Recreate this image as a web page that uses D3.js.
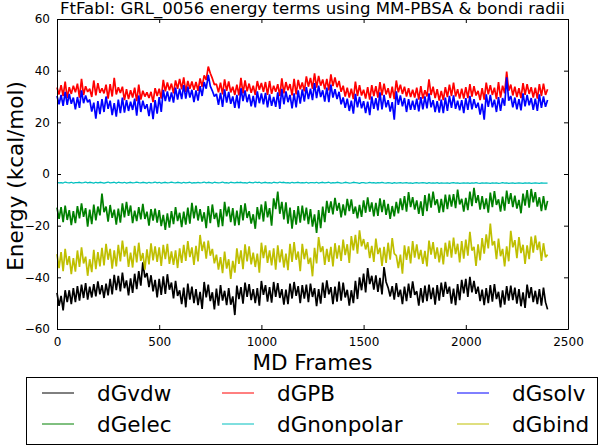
<!DOCTYPE html>
<html><head><meta charset="utf-8">
<script src="https://cdn.jsdelivr.net/npm/d3@7"></script>
<style>
html,body{margin:0;padding:0;background:#fff;}
svg{display:block;font-family:"DejaVu Sans",sans-serif;}
</style></head>
<body>
<svg id="chart" width="600" height="447"></svg>
<script>
const chartTitle = "FtFabI: GRL_0056 energy terms using MM-PBSA & bondi radii";
const xLabel = "MD Frames";
const yLabel = "Energy (kcal/mol)";
const xTicks = [0, 500, 1000, 1500, 2000, 2500];
const yTicks = [-60, -40, -20, 0, 20, 40, 60];
const frameStep = 10;
const seriesNames = ["dGvdw", "dGelec", "dGPB", "dGnonpolar", "dGsolv", "dGbind"];
const seriesColors = ["#000000", "#008000", "#ff0000", "#00bfbf", "#0000ff", "#bfbf00"];

const dGvdw = [-46.0,-51.0,-47.2,-52.8,-45.0,-49.6,
-45.0,-50.4,-44.2,-49.6,-43.4,-49.0,-42.8,-48.0,-42.2,-48.6,-43.6,-47.8,-42.6,-47.4,-41.6,-46.6,-43.0,-48.0,-42.4,-47.0,
-40.6,-46.6,-39.0,-45.0,-39.4,-45.4,-38.2,-44.2,-41.2,-47.0,-40.4,-46.0,-38.6,-44.6,-37.6,-43.2,-34.2,-40.0,-38.4,-43.8,
-39.2,-45.4,-41.0,-47.8,-40.6,-46.8,-39.6,-46.4,-38.8,-44.8,-42.0,-48.2,-41.4,-47.2,
-45.0,-50.4,-44.0,-51.6,-42.4,-48.6,-43.6,-50.0,-44.6,-50.8,-45.6,-52.2,-41.8,-47.8,-42.8,-49.2,-45.8,-52.4,-44.4,-51.0,-43.0,-49.0,-45.2,-50.8,-44.2,-50.6,-47.4,-54.6,
-43.2,-48.4,-43.8,-50.2,-42.0,-47.6,-42.6,-48.8,-44.6,-50.0,-44.2,-51.0,-41.4,-46.8,-43.0,-49.4,-43.8,-49.8,-41.8,-47.6,-42.2,-48.0,-44.6,-50.6,-44.8,-50.4,-42.4,-48.2,-41.8,-47.2,-43.4,-50.0,
-43.0,-48.2,-42.8,-49.6,-42.4,-47.6,-44.2,-51.2,-44.6,-50.2,-42.0,-48.0,-41.2,-46.6,-43.8,-50.4,-43.6,-49.4,-41.6,-49.0,-42.0,-47.8,-44.8,-51.0,-45.0,-50.0,-41.4,-48.4,
-40.0,-45.0,-38.6,-45.8,-36.4,-42.6,-39.4,-44.8,-39.2,-45.6,-40.2,-46.6,-36.0,-41.8,-44.0,-47.4,
-43.4,-48.6,-42.2,-47.6,-44.8,-50.4,-43.6,-49.2,-42.4,-48.0,-41.6,-46.8,-45.4,-51.0,-44.2,-49.8,-43.2,-49.2,-42.8,-48.4,-44.0,-50.6,-43.0,-49.0,-42.0,-47.6,-41.8,-46.4,-43.6,-50.2,-44.4,-50.8,-42.6,-48.8,
-41.0,-46.2,-40.6,-47.6,-39.8,-45.8,-41.4,-46.4,
-43.6,-49.2,-44.8,-50.8,-44.2,-50.0,-43.0,-49.4,-42.6,-48.4,-45.6,-51.6,-45.0,-50.6,-43.4,-49.0,-43.2,-48.8,-44.0,-50.2,-44.6,-51.2,-45.8,-51.8,-42.8,-48.0,-43.8,-49.6,-45.2,-50.4,-44.6,-51.0,-44.0,-49.6,-52.4];

const dGelec = [-13.0,-17.4,-12.8,-18.6,-12.2,-17.8,-14.0,-19.8,-14.4,-19.0,-12.4,-17.2,-11.4,-16.6,-13.2,-20.4,-13.8,-19.4,-11.8,-18.0,-12.6,-16.0,
-7.6,-14.8,
-12.6,-18.4,-12.0,-17.0,-13.8,-19.6,-13.4,-18.8,-11.4,-16.8,-10.8,-16.2,-12.2,-19.0,-14.2,-18.2,-12.8,-17.6,-11.6,-17.4,-14.6,-20.0,-13.6,-18.0,
-13.4,-18.8,-14.0,-20.2,-15.8,-21.6,-15.2,-20.8,-14.4,-19.4,-12.8,-18.2,-15.0,-20.6,
-14.6,-19.6,-13.0,-19.2,-11.2,-17.2,-12.2,-18.0,-13.6,-18.4,-14.8,-21.0,-12.4,-19.0,-11.8,-17.4,-15.0,-20.6,-13.6,-20.2,-10.8,-16.4,-12.6,-18.6,-13.2,-20.0,-14.2,-19.8,-12.0,-18.0,-11.4,-17.0,-14.4,-19.2,-15.6,-21.2,
-12.8,-17.6,-11.8,-18.4,-10.6,-16.8,-13.2,-20.0,-9.4,-13.6,-6.8,-15.4,-10.8,-17.6,-11.0,-19.2,-13.0,-21.2,-14.0,-19.6,-12.4,-18.8,
-12.2,-18.0,-13.0,-19.4,-13.6,-20.4,-15.6,-22.8,-14.0,-21.0,-12.6,-18.6,
-10.4,-15.0,-10.6,-15.6,-9.2,-14.2,-11.2,-16.8,-11.8,-16.0,-9.6,-14.4,-9.8,-15.4,-12.6,-17.2,-12.0,-16.6,-10.2,-15.0,-9.0,-14.6,-11.0,-16.4,-11.2,-16.2,-9.4,-14.8,-10.0,-15.8,-11.6,-17.4,-12.4,-16.4,-10.8,-15.2,
-9.4,-14.0,-8.6,-14.6,-7.0,-12.8,-9.0,-13.8,-10.2,-15.4,-10.6,-16.2,-8.2,-14.4,-7.6,-13.0,-6.8,-12.0,-9.8,-15.0,-9.6,-14.8,-8.0,-13.6,
-8.0,-12.6,-7.8,-13.2,-6.0,-11.8,-9.6,-14.6,-9.2,-14.0,-6.8,-12.4,-5.4,-11.2,-8.2,-13.8,-8.6,-13.6,-9.4,-15.0,-7.2,-12.8,-6.6,-12.0,-9.8,-14.6,-8.8,-14.2,-6.4,-11.6,-7.4,-12.8,-8.4,-13.4,-10.0,-15.2,-7.6,-12.2,-6.2,-13.0,-5.8,-11.0,-7.0,-12.6,-9.0,-14.4,-8.6,-14.0,-10.4];

const dGPB = [33.5,30.8,34.4,30.2,35.8,29.4,33.6,31.0,34.2,31.6,35.0,29.6,36.8,30.6,34.0,31.8,33.0,29.8,36.2,30.4,35.2,31.4,33.2,31.2,34.6,29.2,34.8,30.0,37.2,30.8,33.6,31.4,
33.8,28.6,32.8,29.0,32.4,29.6,33.4,28.2,34.6,28.8,32.2,30.0,31.6,29.4,31.8,27.8,33.2,30.2,33.0,29.2,
36.4,32.0,35.4,32.4,35.0,31.2,36.2,33.0,36.8,32.8,37.4,31.8,36.0,33.0,35.8,32.6,35.6,32.2,37.0,33.8,
38.2,36.4,41.6,39.0,37.0,34.6,
34.8,31.6,35.4,30.8,36.6,32.2,35.8,31.6,33.8,30.6,34.6,30.4,37.2,31.2,36.2,32.0,35.0,31.4,34.2,30.6,36.0,32.6,35.2,31.8,
35.6,30.6,36.0,31.0,34.2,31.8,34.8,30.2,37.0,31.2,35.6,32.4,34.8,30.4,36.8,30.8,36.4,32.8,35.4,32.0,
37.8,33.8,37.2,33.0,39.0,33.4,38.0,34.2,36.6,32.8,36.8,32.4,38.6,34.0,37.4,33.6,36.0,31.8,
34.2,30.0,33.4,29.6,33.0,29.0,35.8,30.2,34.4,30.4,32.6,29.2,33.6,28.8,
34.4,30.2,34.0,29.6,35.6,30.4,35.0,30.8,33.2,29.4,33.8,29.0,36.2,31.6,34.6,31.0,33.8,30.0,33.2,29.8,
32.6,29.6,33.4,28.8,34.0,29.2,32.4,30.0,36.6,30.6,33.8,29.4,32.8,28.4,32.2,28.6,33.6,29.8,34.6,30.2,35.4,30.0,32.8,29.2,
33.0,29.2,33.6,29.4,34.8,30.0,34.0,30.4,32.2,28.6,33.2,28.8,35.4,30.8,34.4,30.6,33.4,29.0,35.6,29.6,34.2,31.2,
39.6,32.2,
34.6,30.4,33.8,29.8,33.2,29.4,35.2,30.6,34.8,31.0,33.6,29.6,33.4,29.2,34.8,30.2,35.0,30.6,32.8];

const dGnonpolar = [-3.2,-3.4,-3.3,-3.5,-3.1,-3.3,-3.4,-3.2,-3.5,-3.3,
-3.3,-3.2,-3.4,-3.3,-3.1,-3.4,-3.2,-3.3,-3.5,-3.2,
-3.4,-3.2,-3.3,-3.5,-3.3,-3.1,-3.4,-3.3,-3.2,-3.5,
-3.2,-3.3,-3.4,-3.2,-3.5,-3.3,-3.2,-3.4,-3.3,-3.1,
-3.3,-3.4,-3.2,-3.3,-3.5,-3.2,-3.4,-3.3,-3.1,-3.4,
-3.2,-3.5,-3.3,-3.2,-3.4,-3.3,-3.1,-3.3,-3.4,-3.2,
-3.3,-3.5,-3.2,-3.4,-3.3,-3.2,-3.5,-3.3,-3.4,-3.2,
-3.4,-3.3,-3.1,-3.4,-3.2,-3.3,-3.5,-3.2,-3.3,-3.4,
-3.3,-3.1,-3.4,-3.3,-3.5,-3.2,-3.3,-3.4,-3.2,-3.3,
-3.2,-3.4,-3.3,-3.5,-3.2,-3.3,-3.4,-3.1,-3.3,-3.2,
-3.5,-3.3,-3.2,-3.4,-3.3,-3.5,-3.2,-3.3,-3.4,-3.1,
-3.3,-3.2,-3.4,-3.3,-3.5,-3.2,-3.4,-3.3,-3.2,-3.4,
-3.3,-3.4,-3.2,-3.5,-3.3,-3.3,-3.4,-3.2,-3.5,-3.3,
-3.2,-3.4,-3.3,-3.2,-3.5,-3.3,-3.4,-3.2,-3.3,-3.5,
-3.4,-3.2,-3.3,-3.5,-3.4,-3.2,-3.3,-3.4,-3.6,-3.3,
-3.3,-3.5,-3.4,-3.2,-3.4,-3.3,-3.5,-3.3,-3.4,-3.2,
-3.4,-3.5,-3.3,-3.4,-3.6,-3.3,-3.5,-3.4,-3.3,-3.5,
-3.4,-3.3,-3.5,-3.4,-3.6,-3.4,-3.3,-3.5,-3.4,-3.3,
-3.4,-3.6,-3.3,-3.5,-3.4,-3.5,-3.3,-3.6,-3.4,-3.5,
-3.5,-3.4,-3.6,-3.4,-3.3,-3.5,-3.4,-3.6,-3.5,-3.4,
-3.5,-3.4,-3.6,-3.4,-3.5,-3.3,-3.5,-3.6,-3.4,-3.5,
-3.4,-3.5,-3.6,-3.4,-3.5,-3.4,-3.6,-3.5,-3.3,-3.5,
-3.4,-3.6,-3.5,-3.4,-3.6,-3.5,-3.4,-3.5,-3.6,-3.4,
-3.5,-3.4,-3.6,-3.5,-3.4,-3.5,-3.6,-3.4,-3.5,-3.5,
-3.5];

const dGsolv = [30.2,27.0,30.6,26.4,31.8,26.8,31.0,27.2,29.6,25.0,29.8,25.6,32.4,27.4,30.4,27.8,28.8,24.2,27.6,21.4,
28.2,23.2,29.0,24.0,30.0,25.2,28.4,22.8,27.4,22.2,28.8,23.6,
29.6,23.8,28.6,24.4,28.0,24.8,29.2,22.6,30.4,24.0,28.4,25.2,27.0,22.4,27.4,21.2,28.6,23.4,29.8,24.0,
32.6,28.2,32.0,28.0,31.6,27.6,33.4,28.8,33.0,29.0,34.4,29.2,33.8,29.6,32.6,27.8,32.4,28.4,34.0,30.2,
35.6,33.0,38.4,34.0,32.2,30.0,
31.0,26.8,31.4,26.0,32.8,27.6,31.8,27.2,30.0,25.6,30.6,25.4,33.2,28.2,32.4,27.8,30.8,26.2,30.2,25.8,32.0,27.4,31.2,27.0,
31.4,25.8,30.8,26.4,29.8,26.0,31.6,25.2,33.0,27.0,32.0,27.8,30.6,25.4,31.2,25.8,32.4,27.2,32.8,28.0,
33.6,29.0,33.0,28.6,35.2,29.4,34.2,29.8,32.4,28.0,33.4,27.8,34.6,29.6,32.8,29.0,31.8,27.0,
29.6,25.6,29.2,24.4,28.4,23.4,31.0,25.8,29.8,25.4,28.2,23.6,28.0,22.8,
30.0,25.2,29.4,24.6,31.6,25.0,30.6,25.8,28.6,24.2,27.8,21.0,32.0,26.8,30.4,26.2,29.4,24.0,29.0,24.8,
28.4,24.8,29.2,24.2,29.8,25.0,30.0,25.4,31.2,25.8,28.6,24.0,28.2,23.8,28.8,23.6,29.6,24.4,30.2,25.6,30.4,25.2,28.4,24.6,
28.6,23.6,29.4,24.8,30.2,25.0,29.0,25.6,27.6,23.0,27.2,21.0,30.8,26.0,30.6,25.8,28.8,24.0,29.8,24.4,29.4,26.4,
37.4,28.4,
30.2,25.8,29.6,25.0,29.0,24.6,31.2,26.2,30.6,26.6,29.4,24.8,29.2,24.4,30.8,25.6,30.0,26.0,28.6];

const dGbind = [-31.0,-36.4,-30.2,-37.6,-29.0,-35.2,-31.8,-38.8,-32.6,-37.8,-29.6,-36.0,-28.4,-34.6,-32.0,-39.4,-33.0,-38.0,-29.4,-36.8,-30.2,-35.8,
-28.6,-35.4,-27.0,-33.2,-29.0,-36.6,-29.6,-35.8,-27.4,-33.8,-25.8,-32.0,-28.2,-36.0,-30.4,-36.2,-27.8,-34.2,-26.6,-33.6,-30.6,-37.0,-29.2,-35.0,-26.8,-33.4,
-28.0,-34.0,-28.4,-35.6,-27.4,-33.0,-27.0,-34.8,-30.0,-35.2,-29.6,-36.4,-28.8,-34.4,
-27.4,-33.6,-26.0,-32.2,-28.4,-35.2,-27.8,-33.8,-23.6,-29.8,-26.2,-32.8,-25.8,-31.6,-29.0,-34.6,
-31.2,-37.0,-32.2,-38.4,-30.0,-36.6,-33.0,-40.6,-33.6,-38.2,
-28.8,-34.8,-29.6,-36.8,-27.2,-33.8,-28.0,-35.0,-30.4,-36.0,-30.8,-38.2,-26.6,-32.6,-27.6,-34.4,-29.6,-35.4,-28.8,-37.0,-27.6,-34.2,-29.2,-36.2,-30.8,-37.2,-27.0,-34.0,-26.4,-33.2,-30.0,-37.6,
-27.0,-33.0,-29.0,-34.8,-32.4,-39.6,-28.6,-34.6,-24.4,-30.2,-28.0,-35.2,
-29.0,-34.0,-28.2,-35.8,-26.8,-32.8,-27.6,-33.6,-25.4,-31.4,-27.2,-34.4,
-24.0,-29.6,-23.6,-30.8,-21.8,-28.0,-25.2,-29.2,
-26.4,-32.6,-27.8,-34.0,-25.0,-31.0,-28.6,-35.6,-28.2,-34.4,-26.6,-33.2,-24.8,-30.8,-31.6,-36.4,
-31.2,-38.6,
-27.6,-33.2,-28.0,-34.6,-26.0,-32.4,-27.2,-33.0,-29.4,-34.8,-29.8,-35.8,-25.8,-31.2,-26.4,-32.8,-28.4,-34.2,-28.6,-35.0,-26.6,-32.0,
-25.8,-32.4,-24.6,-31.0,-27.0,-34.2,-26.0,-32.8,-25.4,-31.6,-22.4,-29.6,-28.2,-35.6,-27.2,-33.4,-24.8,-30.8,-23.4,-28.8,-19.2,-27.6,-26.0,-33.0,-25.0,-31.8,-29.0,-35.8,-28.0,-33.8,-22.0,-28.4,-25.6,-32.6,-24.4,-30.6,-27.4,-34.8,-27.6,-33.0,-24.2,-30.4,-23.8,-29.4,-26.2,-33.6,-26.8,-32.2,-31.2];

const seriesValues = [dGvdw, dGelec, dGPB, dGnonpolar, dGsolv, dGbind];

const W = 600, H = 447;
const margin = {left: 57, right: 32, top: 19, bottom: 118};
const svg = d3.select("#chart");
svg.append("rect").attr("width", W).attr("height", H).attr("fill", "#fff");

const x = d3.scaleLinear().domain([0, 2500]).range([margin.left, W - margin.right]);
const y = d3.scaleLinear().domain([-60, 60]).range([H - margin.bottom, margin.top]);

const plot = svg.append("g");
const line = d3.line().x((d, i) => x(i * frameStep)).y(d => y(d));
seriesValues.forEach((vals, k) => {
  plot.append("path").datum(vals)
    .attr("fill", "none")
    .attr("stroke", seriesColors[k])
    .attr("stroke-width", k === 3 ? 1.3 : 1.7)
    .attr("stroke-linejoin", "bevel")
    .attr("d", line);
});

// axes (inward ticks, matplotlib classic)
const tickLen = 4;
const fontTick = 12;
const axB = svg.append("g").attr("transform", `translate(0,${y(-60)})`)
  .call(d3.axisBottom(x).tickValues(xTicks).tickSizeInner(-tickLen).tickSizeOuter(0).tickPadding(8).tickFormat(d3.format("d")));
const axT = svg.append("g").attr("transform", `translate(0,${y(60)})`)
  .call(d3.axisTop(x).tickValues(xTicks).tickSizeInner(-tickLen).tickSizeOuter(0).tickFormat(""));
const axL = svg.append("g").attr("transform", `translate(${x(0)},0)`)
  .call(d3.axisLeft(y).tickValues(yTicks).tickSizeInner(-tickLen).tickSizeOuter(0).tickPadding(7).tickFormat(d => d < 0 ? "\u2212" + Math.abs(d) : d));
const axR = svg.append("g").attr("transform", `translate(${x(2500)},0)`)
  .call(d3.axisRight(y).tickValues(yTicks).tickSizeInner(-tickLen).tickSizeOuter(0).tickFormat(""));
[axB, axT, axL, axR].forEach(a => {
  a.select(".domain").attr("stroke", "#000").attr("stroke-width", 1);
  a.selectAll(".tick line").attr("stroke", "#000");
  a.selectAll(".tick text").attr("fill", "#000").attr("font-size", fontTick).attr("font-family", "DejaVu Sans");
});

// title
const t = svg.append("text").attr("x", (x(0) + x(2500)) / 2).attr("y", 14)
  .attr("text-anchor", "middle").attr("font-size", 17).attr("fill", "#000").text(chartTitle);
const tl = t.node().getComputedTextLength();
t.attr("font-size", 17 * 505 / tl);

// axis labels
svg.append("text").attr("x", (x(0) + x(2500)) / 2).attr("y", 370)
  .attr("text-anchor", "middle").attr("font-size", 21.5).attr("fill", "#000").text(xLabel);
svg.append("text").attr("transform", `translate(23,${(y(60) + y(-60)) / 2 + 2}) rotate(-90)`)
  .attr("text-anchor", "middle").attr("font-size", 21.5).attr("fill", "#000").text(yLabel);

// legend
const lg = svg.append("g");
lg.append("rect").attr("x", 26.5).attr("y", 377.5).attr("width", 571).attr("height", 67)
  .attr("fill", "#fff").attr("stroke", "#000").attr("stroke-width", 1);
const colX = [42, 222, 457];
const rowY = [393, 424];
seriesNames.forEach((name, k) => {
  const c = Math.floor(k / 2), r = k % 2;
  lg.append("line").attr("x1", colX[c]).attr("x2", colX[c] + 32)
    .attr("y1", rowY[r]).attr("y2", rowY[r]).attr("stroke", seriesColors[k]).attr("stroke-width", 1);
  lg.append("text").attr("x", colX[c] + 55).attr("y", rowY[r]).attr("dy", "0.35em")
    .attr("font-size", 21.5).attr("fill", "#000").text(name);
});
</script>
</body></html>
